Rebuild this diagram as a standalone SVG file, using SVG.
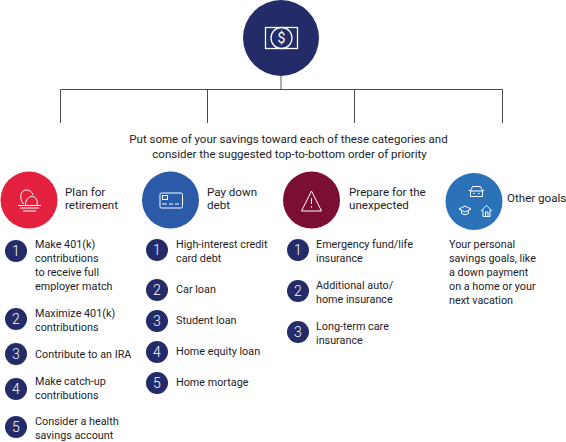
<svg xmlns="http://www.w3.org/2000/svg" width="566" height="442" viewBox="0 0 566 442">
<style>
text{font-family:Roboto,"Noto Sans",sans-serif;font-size:10.8px;fill:#1c1c28}
.h{font-size:11.600px}
.c{text-anchor:middle;font-size:11.500px}
.nb{fill:#232c68}
.nt{fill:#fff;font-size:14px;text-anchor:middle;font-weight:300}
.ln{stroke:#4a4a4a;stroke-width:1;fill:none}
.ic{fill:none;stroke:#fff;stroke-width:1}
</style>
<rect width="566" height="442" fill="#fff"/>
<g id="connectors">
<path class="ln" d="M60.500 123V89.500H502.500V123M207.500 89.500V123M354.500 89.500V123"/>
<path d="M281 76V89" stroke="#8a8a8a" stroke-width="1.400" fill="none"/>
</g>
<g id="top">
<circle cx="281" cy="38" r="38" fill="#232c68"/>
<rect x="265.500" y="27.500" width="32" height="21" fill="none" stroke="#fff" stroke-width="1.300"/>
<circle cx="281.500" cy="38" r="10.500" fill="#232c68" stroke="#fff" stroke-width="1.300"/>
<text x="281.500" y="43" text-anchor="middle" style="fill:#fff;font-size:14px">$</text>
</g>
<g id="intro">
<text class="c" x="288.500" y="143">Put some of your savings toward each of these categories and</text>
<text class="c" x="289.500" y="158">consider the suggested top-to-bottom order of priority</text>
</g>
<g id="retirement">
<circle cx="29" cy="200" r="28.500" fill="#e4203f"/>
<path class="ic" d="M23.500 204C19 199 20 190 26.500 190C30 190 32 192 33 195"/>
<path class="ic" d="M25.500 205C25.500 199 29 196.500 32 196.500C36 196.500 38 200.500 37 205"/>
<path class="ic" d="M18 205.500H41M20 208H39M23 211H36"/>
<text class="h" x="65" y="196">Plan for</text><text class="h" x="65" y="209">retirement</text>
<circle class="nb" cx="16" cy="251" r="11"/><text class="nt" x="16" y="256">1</text>
<text x="35" y="247.500">Make 401(k)</text><text x="35" y="261.500">contributions</text><text x="35" y="275.500">to receive full</text><text x="35" y="289.500">employer match</text>
<circle class="nb" cx="16" cy="319" r="11"/><text class="nt" x="16" y="324">2</text>
<text x="35" y="316.500">Maximize 401(k)</text><text x="35" y="330.500">contributions</text>
<circle class="nb" cx="16" cy="354" r="11"/><text class="nt" x="16" y="359">3</text>
<text x="35" y="358">Contribute to an IRA</text>
<circle class="nb" cx="16" cy="389" r="11"/><text class="nt" x="16" y="394">4</text>
<text x="35" y="385">Make catch-up</text><text x="35" y="399">contributions</text>
<circle class="nb" cx="16" cy="427" r="11"/><text class="nt" x="16" y="432">5</text>
<text x="35" y="425">Consider a health</text><text x="35" y="439">savings account</text>
</g>
<g id="debt">
<circle cx="170.500" cy="200" r="28.500" fill="#2b5aa8"/>
<rect x="160" y="193" width="22.500" height="15" rx="1.500" class="ic"/>
<rect x="162.500" y="195.500" width="5" height="4" class="ic"/>
<path class="ic" d="M162 204H167M169 204H173M175 204H179"/>
<text class="h" x="207" y="196">Pay down</text><text class="h" x="207" y="209">debt</text>
<circle class="nb" cx="157" cy="250" r="11"/><text class="nt" x="157" y="255">1</text>
<text x="176" y="248">High-interest credit</text><text x="176" y="262">card debt</text>
<circle class="nb" cx="157" cy="290" r="11"/><text class="nt" x="157" y="295">2</text>
<text x="176" y="293">Car loan</text>
<circle class="nb" cx="157" cy="321" r="11"/><text class="nt" x="157" y="326">3</text>
<text x="176" y="324">Student loan</text>
<circle class="nb" cx="157" cy="352" r="11"/><text class="nt" x="157" y="357">4</text>
<text x="176" y="355">Home equity loan</text>
<circle class="nb" cx="157" cy="383" r="11"/><text class="nt" x="157" y="388">5</text>
<text x="176" y="386">Home mortage</text>
</g>
<g id="unexpected">
<circle cx="311.500" cy="200" r="28.500" fill="#7a0f33"/>
<path class="ic" d="M311.500 191L301.500 211H321.500Z"/>
<path class="ic" d="M311.500 198V204M311.500 206V207.500"/>
<text class="h" x="349" y="196">Prepare for the</text><text class="h" x="349" y="209">unexpected</text>
<circle class="nb" cx="298" cy="250" r="11"/><text class="nt" x="298" y="255">1</text>
<text x="316" y="248">Emergency fund/life</text><text x="316" y="262">insurance</text>
<circle class="nb" cx="298" cy="291" r="11"/><text class="nt" x="298" y="296">2</text>
<text x="316" y="289">Additional auto/</text><text x="316" y="303">home insurance</text>
<circle class="nb" cx="298" cy="332" r="11"/><text class="nt" x="298" y="337">3</text>
<text x="316" y="330">Long-term care</text><text x="316" y="344">insurance</text>
</g>
<g id="other">
<circle cx="474" cy="201.500" r="28.500" fill="#2c72b8"/>
<path class="ic" d="M470.500 191L472.500 186.500H480.500L482.500 191V196.500H470.500ZM470.500 191H482.500M473 193.500H474.500M478.500 193.500H480M468.500 190.500H470.500M482.500 190.500H484.500"/>
<path class="ic" d="M459 209L465 206L471 209L465 212ZM461.500 210.500V213.500Q465 216 468.500 213.500V210.500"/>
<path class="ic" d="M481 211L486.500 205.500L492 211M483 210V216.500H490V210M485.500 216.500V212H488V216.500"/>
<text class="h" x="507" y="202">Other goals</text>
<text x="449" y="248">Your personal</text><text x="449" y="262">savings goals, like</text><text x="449" y="276">a down payment</text><text x="449" y="290">on a home or your</text><text x="449" y="304">next vacation</text>
</g>
</svg>
